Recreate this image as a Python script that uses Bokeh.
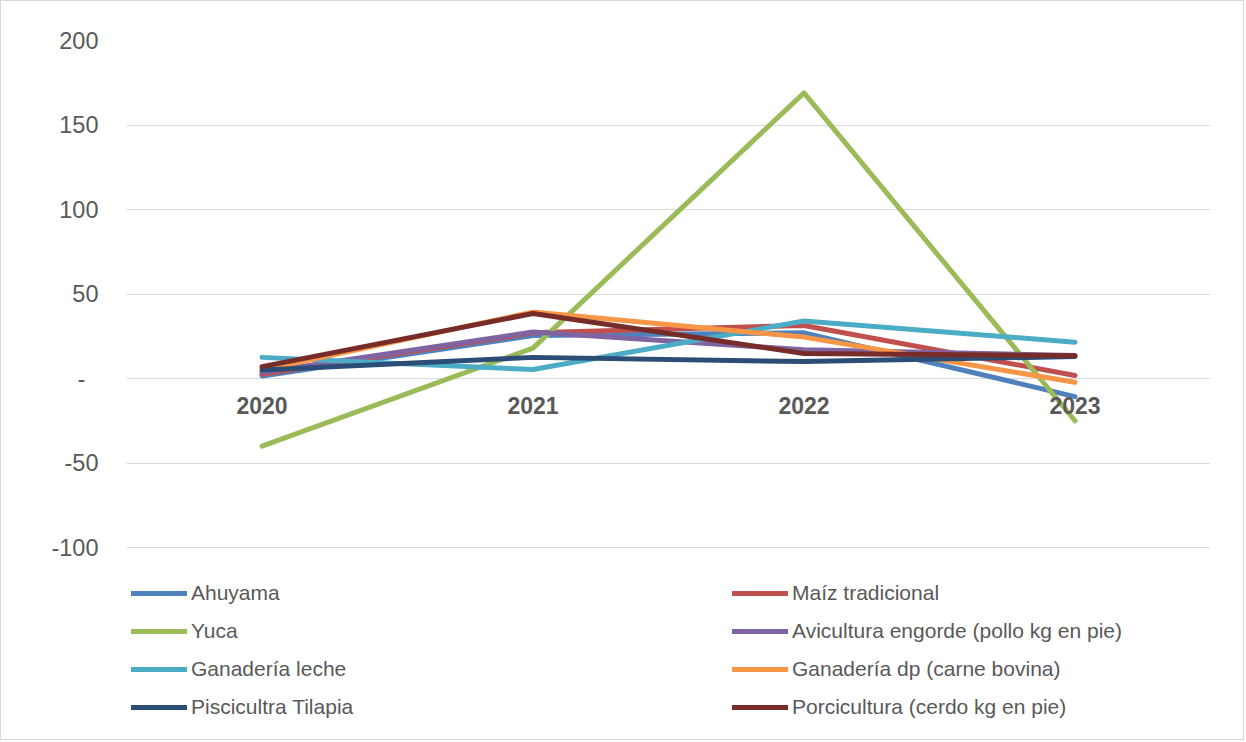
from bokeh.plotting import figure
from bokeh.models import ColumnDataSource, Legend, LegendItem, FixedTicker, Range1d
from bokeh.embed import file_html
from bokeh.resources import INLINE

years = ["2020", "2021", "2022", "2023"]
ahuyama = [1.5, 25.5, 27, -10.7]
maiz = [2.5, 27, 31.4, 1.8]
yuca = [-40, 18, 169, -25]
avicultura = [3.5, 27.5, 17, 13.6]
leche = [12.5, 5.3, 34, 21.5]
carne = [5, 39.3, 24.5, -2.2]
tilapia = [5, 12.5, 10, 13]
cerdo = [7, 38.5, 14.8, 13.4]

names = ["Ahuyama", "Maíz tradicional", "Yuca", "Avicultura engorde (pollo kg en pie)",
         "Ganadería leche", "Ganadería dp (carne bovina)", "Piscicultra Tilapia",
         "Porcicultura (cerdo kg en pie)"]
series = [ahuyama, maiz, yuca, avicultura, leche, carne, tilapia, cerdo]
colors = ["#4F81BD", "#C0504D", "#9BBB59", "#8064A2", "#4BACC6", "#F79646", "#2C4D75", "#772C2A"]
yticks = [-100, -50, 0, 50, 100, 150, 200]
ytick_labels = ["-100", "-50", "-\u00a0\u00a0", "50", "100", "150", "200"]

FONT = "Liberation Sans"
GRAY = "#595959"

frame_h = 683
ppu = 507.0 / 300.0
y_start = 200 - frame_h / ppu

p = figure(x_range=years, y_range=Range1d(y_start, 200),
           frame_width=1084, frame_height=frame_h,
           min_border_left=125, min_border_right=33, min_border_top=39, min_border_bottom=16,
           output_backend="svg", toolbar_location=None)
p.styles = {"border": "1px solid #d9d9d9"}
p.outline_line_color = None
p.background_fill_color = "white"

src = ColumnDataSource(dict(x=years, **{f"s{i}": s for i, s in enumerate(series)}))
items = []
for i, (n, c) in enumerate(zip(names, colors)):
    r = p.line("x", f"s{i}", source=src, line_color=c, line_width=5,
               line_cap="round", line_join="round")
    items.append(LegendItem(label=n, renderers=[r]))

# axes
p.yaxis.ticker = FixedTicker(ticks=yticks)
p.yaxis.major_label_overrides = {t: l for t, l in zip(yticks, ytick_labels)}
p.yaxis.axis_line_color = None
p.yaxis.major_tick_line_color = None
p.yaxis.minor_tick_line_color = None
p.yaxis.major_tick_out = 0
p.yaxis.major_label_standoff = 28
p.yaxis.major_label_text_font = FONT
p.yaxis.major_label_text_font_size = "23.5px"
p.yaxis.major_label_text_color = GRAY

p.xaxis.fixed_location = 0
p.xaxis.axis_line_color = None
p.xaxis.major_tick_line_color = None
p.xaxis.major_tick_out = 0
p.xaxis.major_label_standoff = 18
p.xaxis.major_label_text_font = FONT
p.xaxis.major_label_text_font_size = "23px"
p.xaxis.major_label_text_font_style = "bold"
p.xaxis.major_label_text_color = GRAY

p.xgrid.grid_line_color = None
p.ygrid.ticker = FixedTicker(ticks=yticks)
p.ygrid.grid_line_color = "#d9d9d9"
p.ygrid.grid_line_width = 1

legend = Legend(items=items, location=(5, 4), orientation="horizontal", ncols=2,
                padding=0, margin=0, spacing=14,
                glyph_width=56, glyph_height=20, label_height=20, label_width=527,
                label_standoff=4, border_line_color=None, background_fill_alpha=0,
                label_text_font=FONT, label_text_font_size="21px", label_text_color=GRAY)
p.add_layout(legend, "center")

open("out.html", "w").write(file_html(p, INLINE))
